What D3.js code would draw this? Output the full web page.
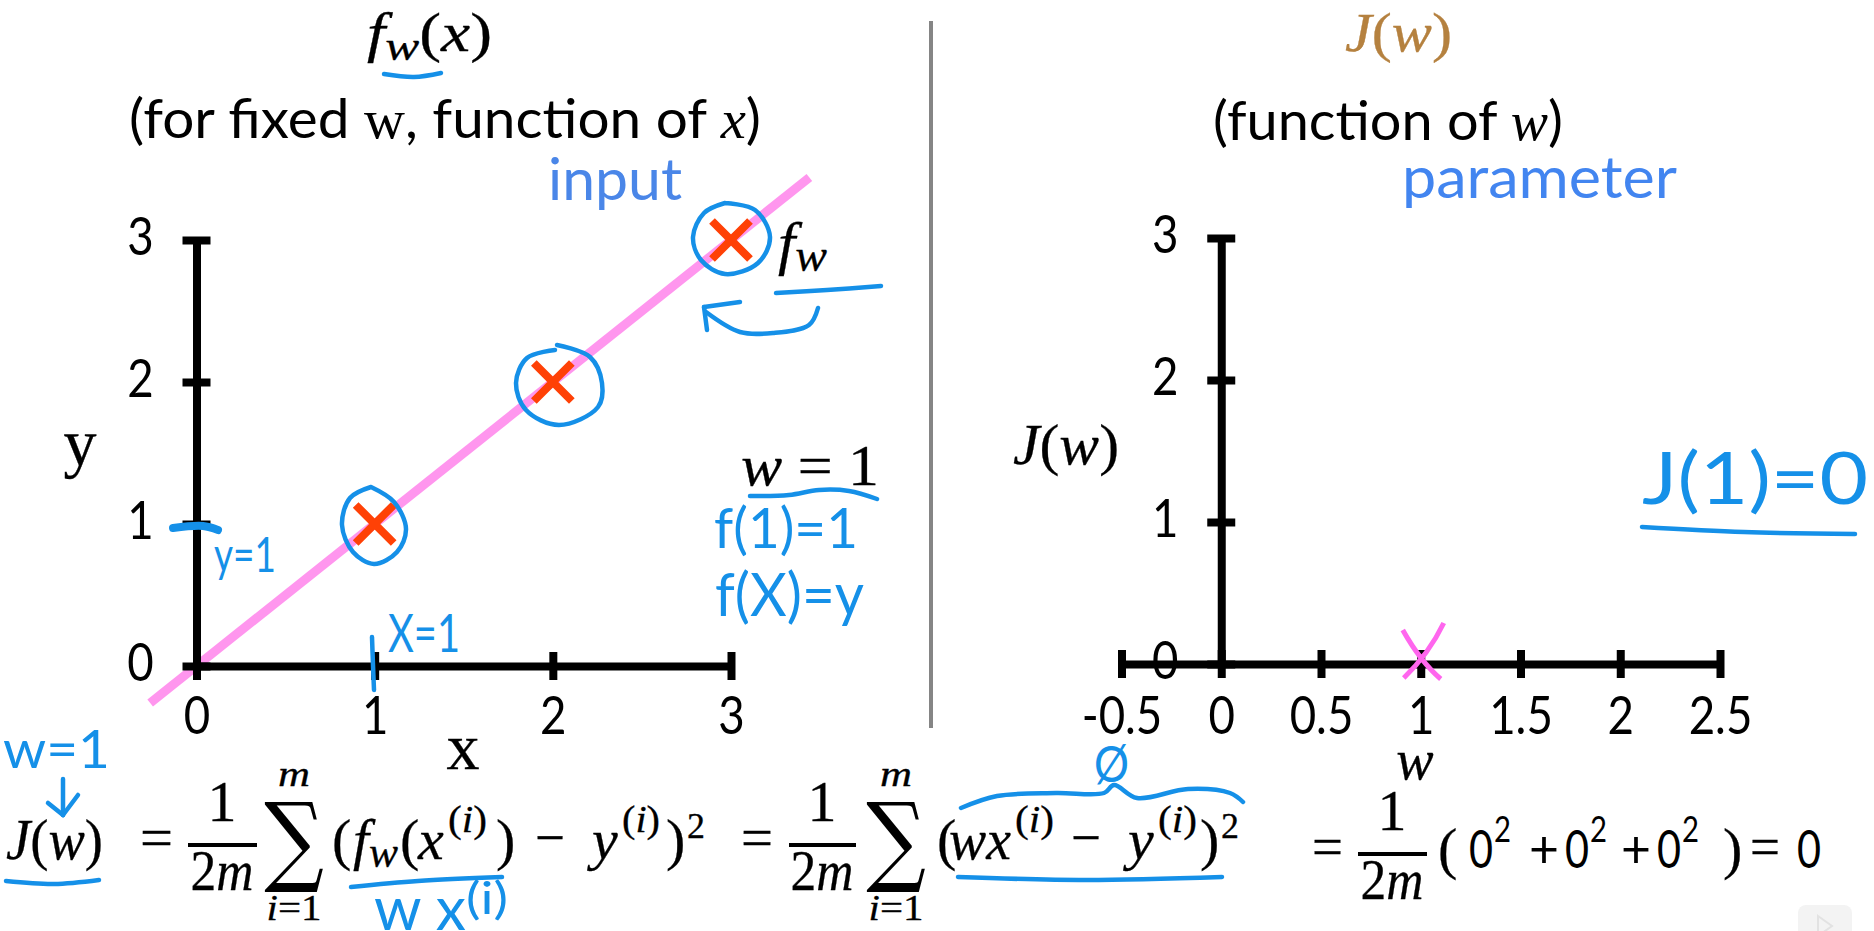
<!DOCTYPE html>
<html>
<head>
<meta charset="utf-8">
<script src="https://cdn.jsdelivr.net/npm/d3@7"></script>
<style>
  html, body { margin: 0; padding: 0; background: #fff; }
  svg { display: block; }
  .axis path, .axis line { stroke: #000; }
  .axis text { font-family: Lato, sans-serif; fill: #000; }
</style>
</head>
<body>
<div id="chart"></div>
<script>
// chart values
var xTicks = [0, 1, 2, 3];
var yTicks = [0, 1, 2, 3];
var wTicks = [-0.5, 0, 0.5, 1, 1.5, 2, 2.5];
var jTicks = [0, 1, 2, 3];
var trainX = [1, 2, 3];
var trainY = [1, 2, 3];
var fitX = [-0.26, 3.44];   // f(x) = x, w = 1
var fitY = [-0.26, 3.44];
var costW = [1];
var costJ = [0];

var INK = '#1590e8', SANS = 'Lato, sans-serif', SERIF = '"Liberation Serif", serif';

var svg = d3.select('#chart').append('svg').attr('width', 1874).attr('height', 931);

// scales
var scaleX = d3.scaleLinear().domain([0, 3]).range([196.5, 731]);
var scaleY = d3.scaleLinear().domain([0, 3]).range([666, 240]);
var scaleW = d3.scaleLinear().domain([-0.5, 2.5]).range([1121.5, 1720]);
var scaleJ = d3.scaleLinear().domain([0, 3]).range([664, 238]);

//divider
svg.append('line').attr('x1', 931).attr('x2', 931).attr('y1', 21).attr('y2', 728)
    .attr('stroke', '#858585').attr('stroke-width', 4);

// fit line, under the axes
var fitLine = d3.line().x(function(d, i) { return scaleX(fitX[i]); }).y(function(d, i) { return scaleY(fitY[i]); });
svg.append('path').datum(fitX).attr('d', fitLine)
    .attr('stroke', '#ff96ee').attr('stroke-width', 9).attr('fill', 'none');

// squeeze lato digits so they read like the narrower font in the picture
function squeeze(sel, k) {
    sel.each(function() {
        d3.select(this).attr('textLength', this.getComputedTextLength() * k).attr('lengthAdjust', 'spacingAndGlyphs');
    });
}

function drawAxes(sx, sy, xVals, yVals, yLabelOffset, xLabelY) {
    var gx = svg.append('g').attr('class', 'axis')
        .attr('transform', 'translate(0,' + sy(0) + ')')
        .call(d3.axisBottom(sx).tickValues(xVals).tickSize(14).tickSizeOuter(0).tickFormat(function(d) { return d; }));
    gx.select('.domain').attr('stroke-width', 8);
    gx.selectAll('.tick line').attr('y1', -14).attr('y2', 14).attr('stroke-width', 8);
    gx.selectAll('.tick text').attr('y', xLabelY).attr('dy', 0).attr('font-size', 53).call(squeeze, 0.86);

    var gy = svg.append('g').attr('class', 'axis')
        .attr('transform', 'translate(' + sx(0) + ',0)')
        .call(d3.axisLeft(sy).tickValues(yVals).tickSize(14).tickSizeOuter(0).tickFormat(function(d) { return d; }));
    gy.select('.domain').attr('stroke-width', 8);
    gy.selectAll('.tick line').attr('x1', -14).attr('x2', 14).attr('stroke-width', 8);
    gy.selectAll('.tick text').attr('x', -yLabelOffset).attr('dy', 14).attr('text-anchor', 'middle').attr('font-size', 53).call(squeeze, 0.86);
}
drawAxes(scaleX, scaleY, xTicks, yTicks, 56, 68);
drawAxes(scaleW, scaleJ, wTicks, jTicks, 56, 70);

// training points
svg.selectAll('.train').data(trainX).enter().append('path')
    .attr('class', 'train')
    .attr('transform', function(d, i) { return 'translate(' + scaleX(d) + ',' + scaleY(trainY[i]) + ')'; })
    .attr('d', 'M-19,-19L19,19M19,-19L-19,19')
    .attr('stroke', '#ff4106').attr('stroke-width', 8).attr('fill', 'none');

// hand drawn cost point
svg.selectAll('.cost').data(costW).enter().append('path')
    .attr('class', 'cost')
    .attr('transform', function(d, i) { return 'translate(' + scaleW(d) + ',' + scaleJ(costJ[i]) + ')'; })
    .attr('d', 'M-18,-34Q0,-2 20,15M23,-41Q8,-10 -17,14')
    .attr('stroke', '#ff66ee').attr('stroke-width', 5).attr('fill', 'none');

// text helper: parts carry italic, font, size and baseline shift
function label(x, y, size, parts, opt) {
    opt = opt || {};
    var t = svg.append('text').attr('x', x).attr('y', y).attr('font-size', size)
        .attr('fill', opt.fill || '#000').attr('text-anchor', opt.anchor || 'start')
        .attr('font-family', opt.font || SERIF).attr('xml:space', 'preserve');
    if (!opt.font) t.attr('stroke', opt.fill || '#000').attr('stroke-width', 0.3);
    if (opt.len) t.attr('textLength', opt.len).attr('lengthAdjust', 'spacingAndGlyphs');
    if (opt.italic) t.attr('font-style', 'italic');
    if (typeof parts === 'string') { t.text(parts); return t; }
    parts.forEach(function(p) {
        var s = t.append('tspan').text(p.t);
        if (p.i) s.attr('font-style', 'italic');
        if (p.f) s.attr('font-family', p.f);
        if (p.s) s.attr('font-size', p.s);
        if (p.dy) s.attr('dy', p.dy);
    });
    return t;
}

// titles
label(367, 51, 54, [{t: 'f', i: 1}, {t: 'w', i: 1, s: 42, dy: 9}, {t: '(', dy: -9}, {t: 'x', i: 1}, {t: ')'}], {len: 125});
label(129, 138, 54, [{t: '(for fixed '}, {t: 'w', f: SERIF}, {t: ', function of '}, {t: 'x', f: SERIF, i: 1}, {t: ')'}], {font: SANS, len: 632});
label(548, 200, 58, 'input', {font: SANS, fill: '#4a86e8', len: 134});
label(1345, 51, 54, [{t: 'J', i: 1}, {t: '('}, {t: 'w', i: 1}, {t: ')'}], {fill: '#b5813f', len: 107});
label(1213, 140, 54, [{t: '(function of '}, {t: 'w', f: SERIF, i: 1}, {t: ')'}], {font: SANS, len: 350});
label(1402, 198, 58, 'parameter', {font: SANS, fill: '#4285f0', len: 275});

// axis names
label(80, 465, 66, 'y', {anchor: 'middle'});
label(463, 769, 66, 'x', {anchor: 'middle'});
label(1013, 464, 58, [{t: 'J', i: 1}, {t: '('}, {t: 'w', i: 1}, {t: ')'}], {len: 106});
label(1415, 779, 56, 'w', {anchor: 'middle', italic: 1});
label(741, 485, 56, [{t: 'w', i: 1}, {t: ' = 1'}], {len: 138});
label(778, 263, 60, [{t: 'f', i: 1}, {t: 'w', i: 1, s: 46, dy: 8}], {len: 49});

// cost equation
function fraction(cx, x0, x1, yBar) {
    label(cx, yBar - 24, 58, '1', {anchor: 'middle'});
    svg.append('line').attr('x1', x0).attr('x2', x1).attr('y1', yBar).attr('y2', yBar).attr('stroke', '#000').attr('stroke-width', 4);
    label(cx, yBar + 45, 58, [{t: '2'}, {t: 'm', i: 1}], {anchor: 'middle', len: 63});
}
function sigma(cx) {
    svg.append('text').text('∑').attr('text-anchor', 'middle').attr('font-family', '"DejaVu Serif", serif')
        .attr('font-size', 110).attr('fill', '#000')
        .attr('transform', 'translate(' + cx + ',873) scale(0.76,0.9)');
    label(cx, 786, 36, 'm', {anchor: 'middle', italic: 1, len: 32});
    label(cx, 920, 36, [{t: 'i', i: 1}, {t: '=1'}], {anchor: 'middle', len: 55});
}
var EQ = 859;
label(6, EQ, 58, [{t: 'J', i: 1}, {t: '('}, {t: 'w', i: 1}, {t: ')'}], {len: 97});
label(140, EQ - 2, 58, '=', {len: 33});
fraction(222, 188, 257, 845);
sigma(294);
label(332, EQ, 58, '(');
label(353, EQ, 58, [{t: 'f', i: 1}, {t: 'w', i: 1, s: 44, dy: 8}], {len: 45});
label(400, EQ, 58, '(');
label(418, EQ, 58, 'x', {italic: 1});
label(448, 832, 38, [{t: '('}, {t: 'i', i: 1}, {t: ')'}], {len: 39});
label(496, EQ, 58, ')');
label(535, EQ - 2, 58, '−', {len: 30});
label(592, EQ, 58, 'y', {italic: 1});
label(622, 832, 38, [{t: '('}, {t: 'i', i: 1}, {t: ')'}], {len: 38});
label(666, EQ, 58, ')');
label(687, 838, 36, '2');

label(741, EQ - 2, 58, '=', {len: 32});
fraction(822, 789, 856, 845);
sigma(896);
label(937, EQ, 58, '(');
label(949, EQ, 58, 'wx', {italic: 1, len: 62});
label(1015, 832, 38, [{t: '('}, {t: 'i', i: 1}, {t: ')'}], {len: 39});
label(1071, EQ - 2, 58, '−', {len: 30});
label(1128, EQ, 58, 'y', {italic: 1});
label(1158, 832, 38, [{t: '('}, {t: 'i', i: 1}, {t: ')'}], {len: 39});
label(1200, EQ, 58, ')');
label(1221, 838, 36, '2');

label(1312, 866, 58, '=', {len: 31});
fraction(1392, 1358, 1427, 854);
label(1438, 868, 58, '(');
label(1469, 868, 53, '0', {font: SANS, len: 24});
label(1494, 842, 36, '2', {font: SANS, len: 17});
label(1529, 868, 53, '+', {font: SANS, len: 30});
label(1565, 868, 53, '0', {font: SANS, len: 24});
label(1590, 842, 36, '2', {font: SANS, len: 17});
label(1621, 868, 53, '+', {font: SANS, len: 30});
label(1657, 868, 53, '0', {font: SANS, len: 24});
label(1682, 842, 36, '2', {font: SANS, len: 17});
label(1723, 868, 58, ')');
label(1750, 866, 58, '=', {len: 30});
label(1797, 868, 53, '0', {font: SANS, len: 24});

// pen annotations
var pen = d3.line().curve(d3.curveCatmullRom);
var penStrokes = [
    [[384, 74], [414, 77], [441, 73]],
    [[776, 293], [827, 290], [881, 286]],
    [[818, 308], [809, 325], [773, 333], [740, 332], [706, 312]],
    [[707, 330], [704, 307]], [[704, 307], [740, 302]],
    [[372, 637], [373, 665], [374, 690]],
    [[63, 779], [63, 815]], [[48, 803], [63, 815]], [[63, 815], [78, 795]],
    [[6, 881], [54, 884], [99, 880]],
    [[351, 887], [418, 881], [502, 877]],
    [[1642, 527], [1744, 532], [1855, 534]],
    [[961, 808], [997, 796], [1056, 793], [1104, 793], [1114, 785], [1137, 798], [1188, 789], [1230, 793], [1243, 802]],
    [[958, 877], [1086, 880], [1222, 877]],
    [[750, 496], [789, 495], [819, 490], [849, 491], [877, 499]],
    // rings round the three points
    [[371, 487], [394, 502], [406, 529], [397, 552], [374, 564], [353, 552], [342, 525], [350, 498], [371, 487]],
    [[557, 345], [590, 357], [602, 383], [598, 407], [559, 425], [526, 410], [516, 383], [527, 358], [555, 350]],
    [[725, 203], [755, 210], [770, 237], [758, 263], [725, 274], [701, 260], [693, 237], [704, 213], [725, 203]]
];
svg.selectAll('.pen').data(penStrokes).enter().append('path')
    .attr('class', 'pen').attr('d', pen).attr('fill', 'none')
    .attr('stroke', INK).attr('stroke-width', 4.5).attr('stroke-linecap', 'round');
svg.append('path').datum([[173, 528], [203, 526], [218, 530]]).attr('d', pen).attr('fill', 'none')
    .attr('stroke', INK).attr('stroke-width', 8).attr('stroke-linecap', 'round');

// pen text
label(214, 572, 48, 'y=1', {font: SANS, fill: INK, len: 62});
label(714, 548, 56, 'f(1)=1', {font: SANS, fill: INK, len: 144});
label(715, 616, 60, 'f(X)=y', {font: SANS, fill: INK, len: 149});
label(388, 652, 52, 'X=1', {font: SANS, fill: INK, len: 72});
label(3, 768, 52, 'w=1', {font: SANS, fill: INK, len: 107});
label(374, 930, 60, 'w x', {font: SANS, fill: INK, len: 92});
label(466, 914, 44, '(i)', {font: SANS, fill: INK, len: 42});
label(1642, 504, 72, 'J(1)=0', {font: SANS, fill: INK, len: 226});
label(1094, 782, 50, 'Ø', {font: SANS, fill: INK, len: 35});

// faint video watermark in the corner
svg.append('rect').attr('x', 1798).attr('y', 905).attr('width', 54).attr('height', 40).attr('rx', 8).attr('fill', '#f3f3f3');
svg.append('path').attr('d', 'M1818,916L1832,926L1818,936Z').attr('fill', 'none').attr('stroke', '#e2e2e2').attr('stroke-width', 2);
</script>
</body>
</html>
